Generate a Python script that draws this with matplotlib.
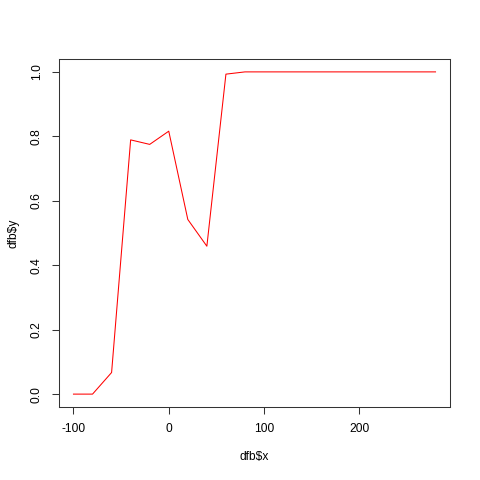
import matplotlib
matplotlib.use("Agg")
import matplotlib.pyplot as plt

# data
x_vals = [-100, -80, -60, -40, -20, 0, 20, 40, 60, 80,
          100, 120, 140, 160, 180, 200, 220, 240, 260, 280]
y_vals = [0.0, 0.0, 0.067, 0.789, 0.775, 0.816, 0.542, 0.459, 0.993, 1.0,
          1.0, 1.0, 1.0, 1.0, 1.0, 1.0, 1.0, 1.0, 1.0, 1.0]
x_ticks = [-100, 0, 100, 200]
y_ticks = [0.0, 0.2, 0.4, 0.6, 0.8, 1.0]

plt.rcParams['font.family'] = ['Liberation Sans', 'DejaVu Sans']
fs = 12 * 72 / 100

fig = plt.figure(figsize=(4.8, 4.8), dpi=100)
ax = fig.add_axes([59 / 480, 73 / 480, 391 / 480, 348 / 480])
ax.plot(x_vals, y_vals, color='red', linewidth=0.75)

xr = max(x_vals) - min(x_vals)
ax.set_xlim(min(x_vals) - 0.04 * xr, max(x_vals) + 0.04 * xr)
ax.set_ylim(-0.04, 1.04)

ax.set_xticks(x_ticks)
ax.set_xticklabels([str(t) for t in x_ticks])
ax.set_yticks(y_ticks)
ax.set_yticklabels(["%.1f" % t for t in y_ticks], rotation=90, va='center')
ax.tick_params(length=5.2, width=0.75, labelsize=fs, pad=6.5, color='#333333')

for s in ax.spines.values():
    s.set_linewidth(0.75)
    s.set_color('#333333')

ax.set_xlabel('dfb$x', fontsize=fs)
ax.set_ylabel('dfb$y', fontsize=fs)
ax.xaxis.set_label_coords(0.5, (407 - 457) / 348)
ax.xaxis.label.set_va('center')
ax.yaxis.set_label_coords(-(59 - 13.5) / 391, 0.5)
ax.yaxis.label.set_va('center')

fig.savefig('out.png', dpi=100)
